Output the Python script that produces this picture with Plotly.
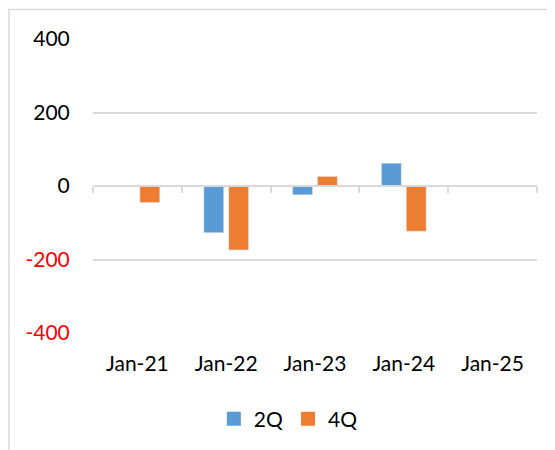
import plotly.graph_objects as go

categories = ["Jan-21", "Jan-22", "Jan-23", "Jan-24", "Jan-25"]
q2_values = [None, -127, -24, 62, None]
q4_values = [-45, -174, 26, -123, None]
y_tick_values = [-400, -200, 0, 200, 400]
y_tick_labels = ["-400", "-200", "0", "200", "400"]

BLUE = "#5B9BD5"
ORANGE = "#ED7D31"
GRID = "#D9D9D9"
FONT = "Lato, Open Sans, sans-serif"

def fmt(v, t):
    return f"<span style='color:#FF0000'>{t}</span>" if v < 0 else t

fig = go.Figure()
fig.add_trace(go.Bar(x=categories, y=q2_values, name="2Q", marker_color=BLUE,
                     legendgroup="2Q", showlegend=False))
fig.add_trace(go.Bar(x=categories, y=q4_values, name="4Q", marker_color=ORANGE,
                     legendgroup="4Q", showlegend=False))
# legend entries with square swatches
for name, col in (("2Q", BLUE), ("4Q", ORANGE)):
    fig.add_trace(go.Scatter(x=[None], y=[None], mode="markers", name=name,
                             legendgroup=name,
                             marker=dict(symbol="square", size=14, color=col)))
# helper trace that carries the categories for the zero-line axis
fig.add_trace(go.Scatter(x=categories, y=[0] * len(categories), xaxis="x2", yaxis="y",
                         mode="markers", marker=dict(opacity=0), showlegend=False,
                         hoverinfo="skip"))

L, R, T, B = 85, 26, 31, 125
PW, PH = 555 - L - R, 450 - T - B

fig.update_layout(
    width=555, height=450,
    margin=dict(l=L, r=R, t=T, b=B),
    paper_bgcolor="white", plot_bgcolor="white",
    font=dict(family=FONT, size=21, color="#000000"),
    barmode="group", bargap=0.44, bargroupgap=0.2,
    showlegend=True,
    legend=dict(orientation="h", x=0.44, xanchor="center", y=(-(411 - T - PH)) / PH,
                yanchor="middle", font=dict(size=21), traceorder="normal",
                itemwidth=30),
    xaxis=dict(type="category", categoryorder="array", categoryarray=categories,
               range=[-0.5, 4.5], showgrid=False, zeroline=False, showline=False,
               ticks="outside", ticklen=12, tickcolor="rgba(0,0,0,0)",
               tickfont=dict(size=21)),
    xaxis2=dict(type="category", categoryorder="array", categoryarray=categories,
                range=[-0.5, 4.5], overlaying="x", anchor="free", position=0.5,
                side="bottom", showline=True, linecolor=GRID, linewidth=1.5,
                ticks="outside", tickson="boundaries", ticklen=6, tickcolor=GRID,
                tickwidth=1.5, showticklabels=False, showgrid=False, zeroline=False),
    yaxis=dict(range=[-400, 400], tickvals=y_tick_values,
               ticktext=[fmt(v, t) for v, t in zip(y_tick_values, y_tick_labels)],
               showgrid=True, gridcolor=GRID, gridwidth=1.5, zeroline=False,
               showline=False, ticks="outside", ticklen=18, tickcolor="rgba(0,0,0,0)",
               tickfont=dict(size=21)),
    shapes=[dict(type="rect", xref="paper", yref="paper",
                 x0=(1 - L) / PW, x1=1.3, y0=-0.6, y1=(450 - B - 1.5) / PH,
                 line=dict(color=GRID, width=1.5), layer="below")],
)

fig.write_html("out.html")
